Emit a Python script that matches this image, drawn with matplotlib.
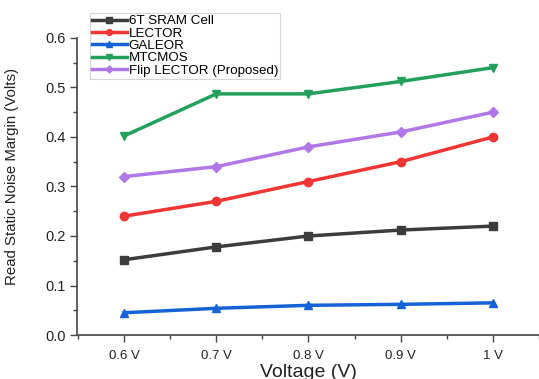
import matplotlib
matplotlib.use("Agg")
import matplotlib.pyplot as plt

plt.rcParams['font.family'] = ['Liberation Sans', 'DejaVu Sans']

categories = ["0.6 V", "0.7 V", "0.8 V", "0.9 V", "1 V"]
sram = [0.152, 0.178, 0.200, 0.212, 0.220]
lector = [0.240, 0.270, 0.310, 0.350, 0.400]
galeor = [0.045, 0.054, 0.060, 0.062, 0.065]
mtcmos = [0.402, 0.487, 0.487, 0.512, 0.540]
flip = [0.320, 0.340, 0.380, 0.410, 0.450]

series = [
    ("6T SRAM Cell", sram, "#3c3c3c", "s"),
    ("LECTOR", lector, "#f03535", "o"),
    ("GALEOR", galeor, "#1563d6", "^"),
    ("MTCMOS", mtcmos, "#23a05c", "v"),
    ("Flip LECTOR (Proposed)", flip, "#b077e6", "D"),
]

fig = plt.figure(figsize=(5.39, 3.79), dpi=100)
ax = fig.add_axes([0.143, 0.116, 0.857, 0.784])
x = list(range(len(categories)))
for name, vals, c, m in series:
    ax.plot(x, vals, color=c, marker=m, lw=2.5, ms=6 if m != "D" else 5, label=name)

ax.set_xlim(-0.51, 4.49)
ax.set_ylim(0, 0.6)
ax.set_xticks(x)
ax.set_xticklabels(categories)
ax.set_xticks([i + 0.5 for i in range(-1, 5)], minor=True)
ax.set_yticks([0, 0.1, 0.2, 0.3, 0.4, 0.5, 0.6])
ax.set_yticks([0.05, 0.15, 0.25, 0.35, 0.45, 0.55], minor=True)
ax.set_yticklabels(["0.0", "0.1", "0.2", "0.3", "0.4", "0.5", "0.6"])
ax.tick_params(axis='both', which='major', length=5, width=1, color="#444444", labelcolor="#222222")
ax.tick_params(axis='x', which='major', labelsize=9.5, pad=6)
ax.tick_params(axis='y', which='major', labelsize=10.5, pad=3)
ax.tick_params(axis='both', which='minor', length=3, width=1, color="#444444")
for s in ("top", "right"):
    ax.spines[s].set_visible(False)
for s in ("left", "bottom"):
    ax.spines[s].set_color("#444444")
    ax.spines[s].set_linewidth(1.2)

ax.set_xlabel("Voltage (V)", fontsize=14, color="#222222", labelpad=1.5)
ax.set_ylabel("Read Static Noise Margin (Volts)", fontsize=10.8, color="#222222")
ax.yaxis.set_label_coords(-0.125, 0.534)

leg = ax.legend(loc="upper left", bbox_to_anchor=(0.028, 1.084), fontsize=9.6, frameon=True,
                fancybox=False, edgecolor="#cccccc", borderpad=0.15, labelspacing=0.0,
                handlelength=2.6, handletextpad=0.15, borderaxespad=0, markerscale=0.7)
leg.get_frame().set_linewidth(0.8)

fig.savefig("out.png", dpi=100)
